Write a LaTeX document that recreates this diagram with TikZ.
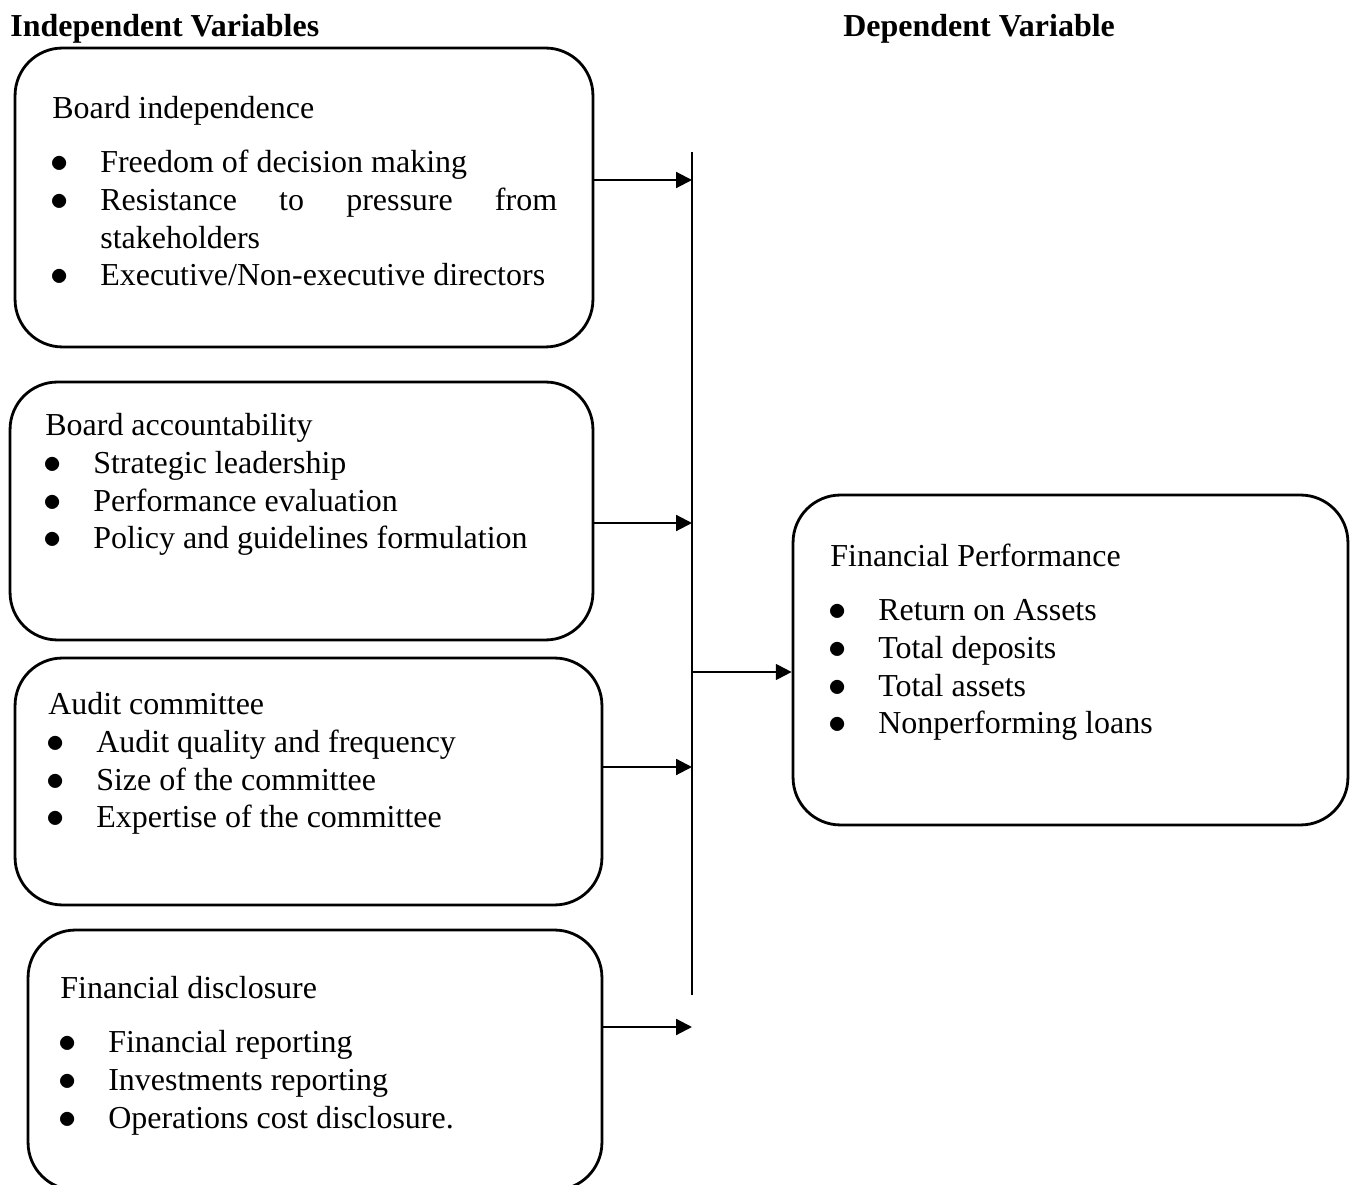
\documentclass[tikz,border=0pt]{standalone}
\usepackage{fontspec}
\setmainfont{Liberation Serif}
\usepackage{tikz}
\usetikzlibrary{arrows.meta}
\newcommand\bul{\makebox[27.3pt][l]{\hspace{-1pt}\scalebox{1.2}{$\bullet$}}}

\begin{document}
\begin{tikzpicture}[x=0.02cm,y=-0.02cm,font=\fontsize{18.2pt}{21.5pt}\selectfont]
    \tikzstyle{varbox}=[draw, line width=1.6pt, rounded corners=27pt, inner sep=0pt, fill=none]
    \tikzstyle{txt}=[anchor=base west, align=left, inner sep=0pt, text=black]
    \tikzstyle{title}=[anchor=base west, inner sep=0pt, font=\fontsize{18.2pt}{21.5pt}\selectfont\bfseries]
    \tikzstyle{arr}=[-{Triangle[length=9pt,width=9pt]}, line width=1.2pt]
    \useasboundingbox (0,0) rectangle (1357,1185);

    \node[title] (indep) at (10,37)  {Independent Variables};
    \node[title] (dep)   at (843,37) {Dependent Variable};

    \node[varbox, minimum width=11.56cm, minimum height=5.98cm] (bi) at (304,197.5)  {};
    \node[varbox, minimum width=11.66cm, minimum height=5.16cm] (ba) at (301.5,511)  {};
    \node[varbox, minimum width=11.74cm, minimum height=4.94cm] (ac) at (308.5,781.5){};
    \node[varbox, minimum width=11.48cm, minimum height=5.20cm] (fd) at (315,1060)   {};
    \node[varbox, minimum width=11.10cm, minimum height=6.60cm] (fp) at (1070.5,660) {};

    % text blocks, placed by the baseline of their last line
    \node[txt] (tbi) at (52,286) {Board independence\\[9.3pt]
      \bul Freedom of decision making\\
      \bul \makebox[260pt][s]{Resistance to pressure from}\\
      \hspace*{27.3pt}stakeholders\\
      \bul Executive/Non-executive directors};
    \node[txt] (tba) at (45,549) {Board accountability\\
      \bul Strategic leadership\\
      \bul Performance evaluation\\
      \bul Policy and guidelines formulation};
    \node[txt] (tac) at (48,828) {Audit committee\\
      \bul Audit quality and frequency\\
      \bul Size of the committee\\
      \bul Expertise of the committee};
    \node[txt] (tfd) at (60,1128) {Financial disclosure\\[9.3pt]
      \bul Financial reporting\\
      \bul Investments reporting\\
      \bul Operations cost disclosure.};
    \node[txt] (tfp) at (830,734) {Financial Performance\\[9.3pt]
      \bul Return on Assets\\
      \bul Total deposits\\
      \bul Total assets\\
      \bul Nonperforming loans};

    \coordinate (bartop) at (692,152);
    \coordinate (barbot) at (692,995);
    \coordinate (j1) at (692,180);
    \coordinate (j2) at (692,523);
    \coordinate (j3) at (692,767);
    \coordinate (j4) at (692,1027);
    \coordinate (jr) at (692,672);

    \draw[line width=1.1pt] (bartop) -- (barbot);
    \draw[arr] (bi.east |- j1) -- (j1);
    \draw[arr] (ba.east |- j2) -- (j2);
    \draw[arr] (ac.east |- j3) -- (j3);
    \draw[arr] (fd.east |- j4) -- (j4);
    \draw[arr] (jr) -- (jr -| fp.west);
\end{tikzpicture}
\end{document}
